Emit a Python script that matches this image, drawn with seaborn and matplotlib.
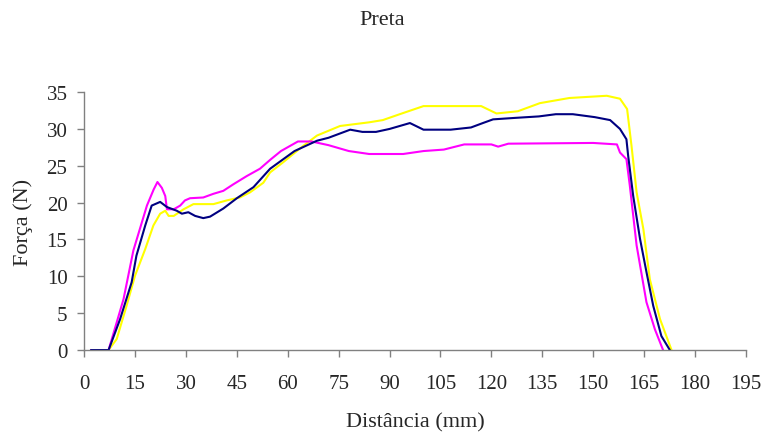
import numpy as np
import pandas as pd
import matplotlib
matplotlib.use("Agg")
import matplotlib.pyplot as plt
import seaborn as sns

sns.set_style("white")
plt.rcParams['font.family'] = ['Liberation Serif', 'DejaVu Serif']

# -----------------------------------------------
# DATA
# -----------------------------------------------
x_navy = [2, 7.2, 10.6, 14, 15.4, 18, 19.9, 22.4, 24.4, 27.3, 28.8, 30.7, 32.7,
          35.1, 37.1, 41, 45, 49.9, 54.8, 62, 68.6, 72, 78.4, 82, 86, 90, 96,
          100, 104, 108, 114, 117.5, 120.5, 127, 134, 139, 144, 150.5, 155,
          157.9, 159.8, 160.3, 161.8, 163.8, 165.7, 167.7, 170.1, 172.6]
y_navy = [0, 0, 4.2, 9.2, 12.8, 16.9, 19.6, 20.1, 19.4, 18.9, 18.5, 18.7, 18.2,
          17.9, 18.1, 19.2, 20.6, 22.1, 24.6, 27.0, 28.4, 28.8, 29.9, 29.6, 29.6,
          30.0, 30.8, 29.9, 29.9, 29.9, 30.2, 30.8, 31.3, 31.5, 31.7, 32.0, 32.0,
          31.6, 31.2, 30.0, 28.6, 26.4, 20.9, 15.1, 10.6, 6.0, 1.9, 0]

x_magenta = [2, 7.2, 11.6, 14.5, 18.5, 20.5, 21.6, 22.9, 23.9, 24.4, 26.4, 28.3,
             29.7, 31.2, 35.1, 38.1, 41, 44, 47.9, 51.8, 54.8, 58, 63, 67, 72,
             78, 84, 94, 100, 106, 112, 120, 122, 125, 150, 157, 157.9, 159.8,
             160.8, 162.8, 165.7, 168.2, 170.6]
y_magenta = [0, 0, 6.9, 13.5, 19.6, 21.8, 22.8, 22.0, 20.9, 19.1, 19.1, 19.6,
             20.3, 20.6, 20.7, 21.2, 21.6, 22.5, 23.6, 24.6, 25.8, 27.0, 28.3,
             28.3, 27.8, 27.0, 26.6, 26.6, 27.0, 27.2, 27.9, 27.9, 27.6, 28.0,
             28.1, 27.9, 26.8, 25.9, 22.3, 14.2, 6.5, 2.8, 0]

x_yellow = [2, 4, 7.2, 9.6, 12.5, 15, 18, 20.4, 22.4, 23.9, 24.9, 26.4, 29.3,
            32.2, 38.1, 42, 45.9, 48.9, 52.8, 54.8, 58.7, 64, 68.6, 75.4, 84,
            88, 93, 100, 110, 117, 121.5, 127.8, 134.3, 143, 154, 157.9, 160,
            161.3, 162.8, 164.8, 166.7, 169.7, 173.1]
y_yellow = [0, 0, 0, 1.5, 6.0, 10.1, 13.7, 16.9, 18.5, 18.9, 18.2, 18.2, 19.1,
            19.8, 19.8, 20.3, 20.7, 21.4, 22.7, 24.1, 25.5, 27.5, 29.1, 30.4,
            30.9, 31.2, 32.0, 33.1, 33.1, 33.1, 32.1, 32.4, 33.5, 34.2, 34.5,
            34.1, 32.7, 27.7, 21.4, 16.4, 9.6, 4.2, 0]

x_ticks = list(range(0, 196, 15))
y_ticks = list(range(0, 36, 5))

# -----------------------------------------------
# PLOT
# -----------------------------------------------
fig = plt.figure(figsize=(7.65, 4.35), dpi=100)
ax = fig.add_axes([0.11, 0.193, 0.865, 0.593])

sns.lineplot(x=x_yellow, y=y_yellow, color='#FFFF00', lw=1.5, ax=ax, sort=False)
sns.lineplot(x=x_magenta, y=y_magenta, color='#FF00FF', lw=1.5, ax=ax, sort=False)
sns.lineplot(x=x_navy, y=y_navy, color='#000080', lw=1.5, ax=ax, sort=False)

ax.set_xlim(0, 195)
ax.set_ylim(0, 35)
ax.set_xticks(x_ticks)
ax.set_yticks(y_ticks)
ax.tick_params(axis='both', direction='out', length=5, width=1, color='#808080',
               labelsize=15, left=True, bottom=True)
ax.tick_params(axis='x', pad=12)
ax.tick_params(axis='y', pad=7)
ax.xaxis.labelpad = 14
ax.yaxis.labelpad = 10

for side in ['top', 'right']:
    ax.spines[side].set_visible(False)
for side in ['left', 'bottom']:
    ax.spines[side].set_color('#808080')
    ax.spines[side].set_linewidth(1)

ax.set_xlabel("Distância (mm)", fontsize=16)
ax.set_ylabel("Força (N)", fontsize=16)
# title is centred on the figure, not on the axes
fig.text(0.5, 1 - 25 / 435, "Preta", ha='center', va='baseline', fontsize=16)

fig.savefig("out.png", dpi=100)
